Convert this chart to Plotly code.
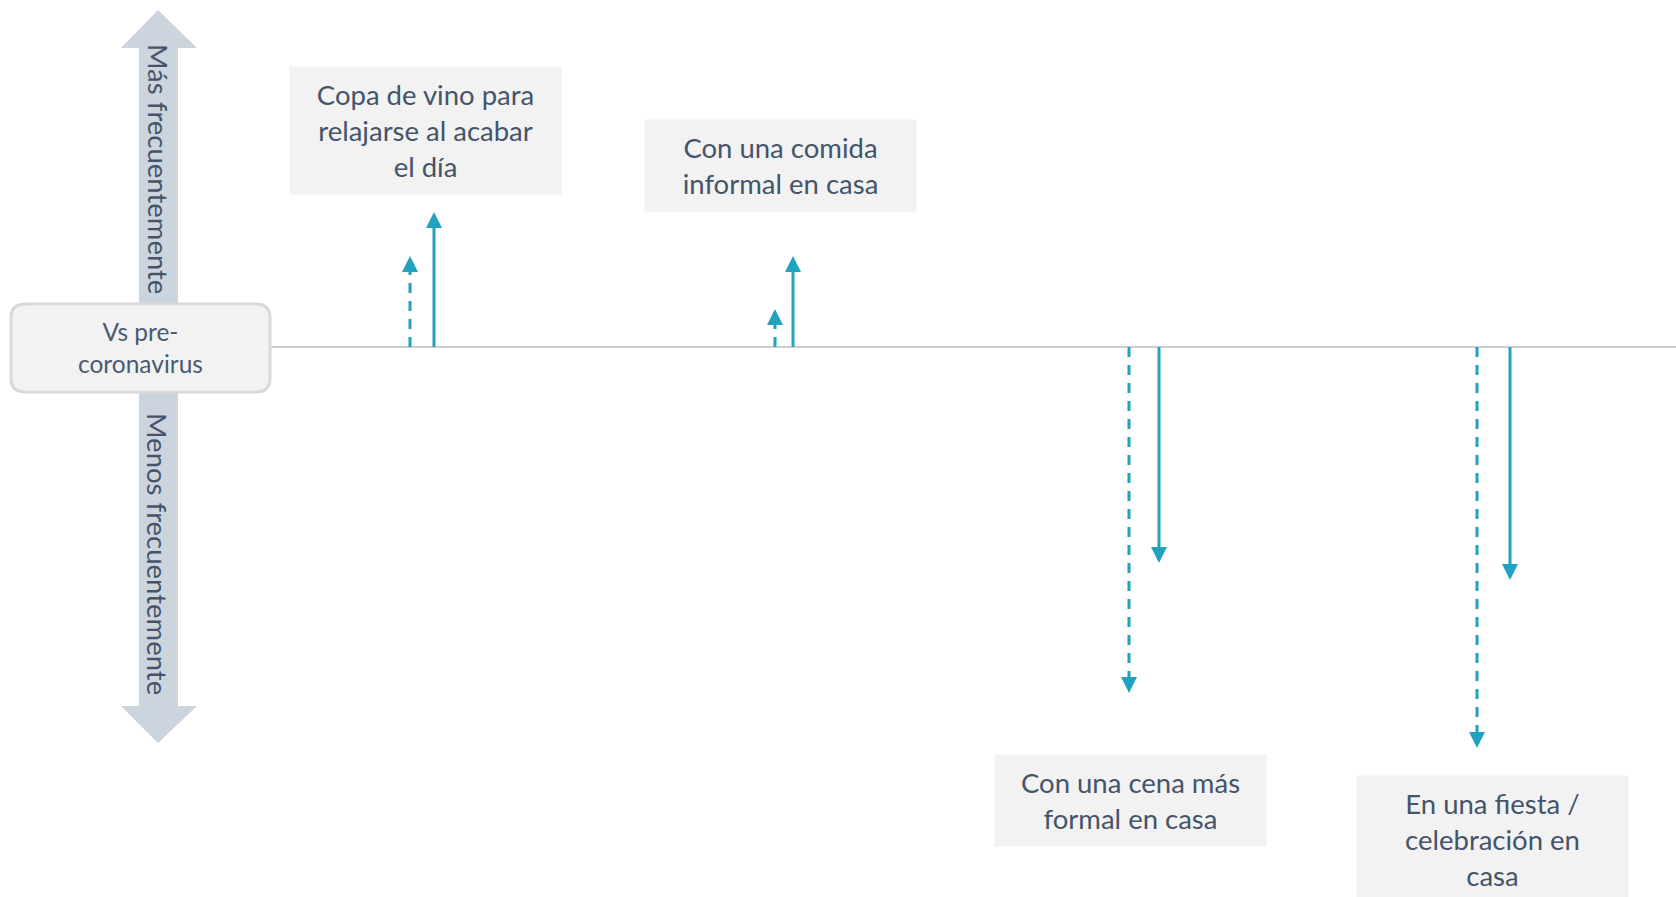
import plotly.graph_objects as go

W, H = 1676, 897

# ---- data -------------------------------------------------------------
categories = [
    "Copa de vino para<br>relajarse al acabar<br>el día",
    "Con una comida<br>informal en casa",
    "Con una cena más<br>formal en casa",
    "En una fiesta /<br>celebración en<br>casa",
]
dashed_values = [0.91, 0.38, -3.46, -4.01]
solid_values = [1.35, 0.91, -2.16, -2.33]

up_label = "Más frecuentemente"
down_label = "Menos frecuentemente"
centre_label = "Vs pre-<br>coronavirus"

# ---- layout constants (pixels) ----------------------------------------
dashed_x = [410, 775, 1129, 1477]
solid_x = [434, 793, 1159, 1510]
box_cx = [425.5, 780.5, 1130.5, 1492.5]
box_cy = [130.5, 165.5, 800.5, 839]
box_h = [127, 91, 91, 127]
box_w = 271

BASE_PX = 347          # pixel row of the zero line
UNIT_PX = 100          # pixels per value unit
y_top = BASE_PX / UNIT_PX
y_bot = -(H - BASE_PX) / UNIT_PX

TEAL = "#21A2BE"
TEXT = "#44546A"
SHAFT = "#CCD4DE"


def px(x, y):
    """pixel -> paper coordinates"""
    return x / W, 1 - y / H


def path(points, close=True):
    parts = []
    for i, (x, y) in enumerate(points):
        xp, yp = px(x, y)
        parts.append(("M" if i == 0 else "L") + f"{xp:.5f},{yp:.5f}")
    return " ".join(parts) + (" Z" if close else "")


fig = go.Figure()

# ---- arrows ------------------------------------------------------------
def add_arrow(x, v, dash):
    sign = 1 if v > 0 else -1
    fig.add_trace(go.Scatter(
        x=[x, x], y=[0, v - sign * 0.10], mode="lines",
        line=dict(color=TEAL, width=3, dash=dash),
        hoverinfo="skip", showlegend=False))
    fig.add_trace(go.Scatter(
        x=[x], y=[v], mode="markers",
        marker=dict(symbol="arrow-up" if v > 0 else "arrow-down",
                    size=16, color=TEAL, line=dict(width=0)),
        hoverinfo="skip", showlegend=False))


for i in range(len(categories)):
    add_arrow(dashed_x[i], dashed_values[i], "10px,8px")
    add_arrow(solid_x[i], solid_values[i], "solid")

shapes = []

# zero line
shapes.append(dict(type="line", xref="x", yref="y", x0=270, x1=W, y0=0, y1=0,
                   line=dict(color="#BFBFBF", width=1.5), layer="below"))

# big double-headed arrow on the left
shapes.append(dict(
    type="path", xref="paper", yref="paper", layer="below",
    path=path([(158, 10), (197, 48), (178, 48), (178, 706), (197, 706),
               (158, 743), (121, 706), (139, 706), (139, 48), (121, 48)]),
    fillcolor=SHAFT, line=dict(width=0)))

# rounded box in the middle of the axis arrow
x0, x1, y0, y1, r = 11, 270, 304, 392, 14
def P(x, y):
    xp, yp = px(x, y)
    return f"{xp:.5f},{yp:.5f}"
rounded = (f"M{P(x0 + r, y0)} L{P(x1 - r, y0)} Q{P(x1, y0)} {P(x1, y0 + r)} "
           f"L{P(x1, y1 - r)} Q{P(x1, y1)} {P(x1 - r, y1)} "
           f"L{P(x0 + r, y1)} Q{P(x0, y1)} {P(x0, y1 - r)} "
           f"L{P(x0, y0 + r)} Q{P(x0, y0)} {P(x0 + r, y0)} Z")
shapes.append(dict(type="path", xref="paper", yref="paper", path=rounded,
                   fillcolor="#F2F2F2", line=dict(color="#D9D9D9", width=3),
                   layer="above"))

annotations = []

# category labels
for i, txt in enumerate(categories):
    annotations.append(dict(
        text=txt, xref="x", yref="paper", x=box_cx[i], y=1 - box_cy[i] / H,
        xanchor="center", yanchor="middle", showarrow=False,
        width=box_w, height=box_h[i], bgcolor="#F2F2F2", borderpad=0,
        align="center", valign="middle",
        font=dict(family="Lato", size=27.5, color=TEXT)))

# axis arrow captions
annotations.append(dict(
    text=up_label, xref="paper", yref="paper", x=158 / W, y=1 - 169 / H,
    textangle=90, showarrow=False, xanchor="center", yanchor="middle",
    font=dict(family="Lato", size=27.5, color=TEXT)))
annotations.append(dict(
    text=down_label, xref="paper", yref="paper", x=158 / W, y=1 - 554 / H,
    textangle=90, showarrow=False, xanchor="center", yanchor="middle",
    font=dict(family="Lato", size=27.5, color=TEXT)))
annotations.append(dict(
    text=centre_label, xref="paper", yref="paper", x=140 / W, y=1 - 348 / H,
    showarrow=False, xanchor="center", yanchor="middle", align="center",
    font=dict(family="Lato", size=24.5, color="#4A5A70")))

fig.update_layout(
    width=W, height=H, margin=dict(l=0, r=0, t=0, b=0),
    paper_bgcolor="white", plot_bgcolor="white",
    xaxis=dict(range=[0, W], visible=False, fixedrange=True),
    yaxis=dict(range=[y_bot, y_top], visible=False, fixedrange=True),
    shapes=shapes, annotations=annotations, showlegend=False,
)

fig.write_html("out.html")
